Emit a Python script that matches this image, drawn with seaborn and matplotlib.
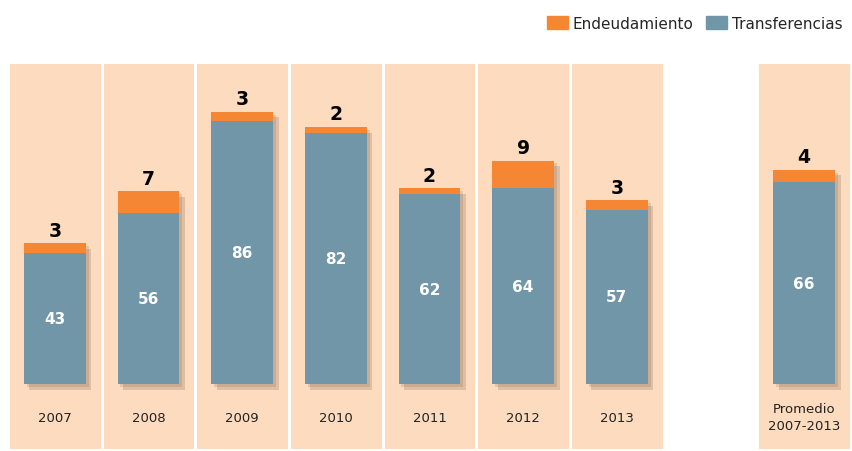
import numpy as np
import pandas as pd
import matplotlib
matplotlib.use("Agg")
import matplotlib.pyplot as plt
import matplotlib.patheffects as pe
from matplotlib.patches import Patch
import seaborn as sns

# data
categories = ["2007", "2008", "2009", "2010", "2011", "2012", "2013", "Promedio\n2007-2013"]
positions = [0, 1, 2, 3, 4, 5, 6, 8]
transferencias = [43, 56, 86, 82, 62, 64, 57, 66]
endeudamiento = [3, 7, 3, 2, 2, 9, 3, 4]

c_blue = "#7096A8"
c_orange = "#F58634"
c_panel = "#FDDBBE"

df = pd.DataFrame({"pos": positions, "cat": categories,
                   "transf": transferencias, "endeu": endeudamiento})
df["total"] = df["transf"] + df["endeu"]

sns.set_style("white")
plt.rcParams["font.family"] = ["DejaVu Sans"]

fig = plt.figure(figsize=(8.52, 4.52), dpi=100)
ax = fig.add_axes([8 / 852, 2 / 452, 843 / 852, 385 / 452])

# background panels
for p in positions:
    ax.axvspan(p - 0.5, p + 0.5, color=c_panel, lw=0, zorder=0)
    ax.axvline(p - 0.5, color="white", lw=2, zorder=0.5)
    ax.axvline(p + 0.5, color="white", lw=2, zorder=0.5)

sns.barplot(data=df, x="pos", y="total", native_scale=True, color=c_orange,
            width=0.66, saturation=1, ax=ax, zorder=2, linewidth=0)
sns.barplot(data=df, x="pos", y="transf", native_scale=True, color=c_blue,
            width=0.66, saturation=1, ax=ax, zorder=3, linewidth=0)

# soft drop shadow under the stacked bars (orange bars are the full height)
shadow = [pe.SimplePatchShadow(offset=(4, -4), alpha=0.18, shadow_rgbFace="#5a4030"),
          pe.SimplePatchShadow(offset=(2, -2), alpha=0.15, shadow_rgbFace="#5a4030"),
          pe.Normal()]
for bar in ax.containers[0]:
    bar.set_path_effects(shadow)

for _, r in df.iterrows():
    ax.text(r["pos"], r["transf"] / 2, f"{r['transf']}", color="white",
            fontsize=11, fontweight="bold", ha="center", va="center", zorder=5)
    ax.text(r["pos"], r["total"] + 1.2, f"{r['endeu']}", color="black",
            fontsize=13.5, fontweight="bold", ha="center", va="bottom", zorder=5)
    ax.text(r["pos"], -10.8, r["cat"], color="#222222", fontsize=9.5,
            ha="center", va="center", linespacing=1.4, zorder=5)

ax.set_xlim(-0.5, 8.5)
ax.set_ylim(-21.2, 104.6)
ax.set_axis_off()

handles = [Patch(color=c_orange, label="Endeudamiento"),
           Patch(color=c_blue, label="Transferencias")]
fig.legend(handles=handles, loc="upper right", bbox_to_anchor=(1.005, 0.993),
           ncol=2, frameon=False, fontsize=11, handlelength=1.4,
           handleheight=0.9, handletextpad=0.3, columnspacing=0.8)

fig.savefig("out.png", dpi=100)
